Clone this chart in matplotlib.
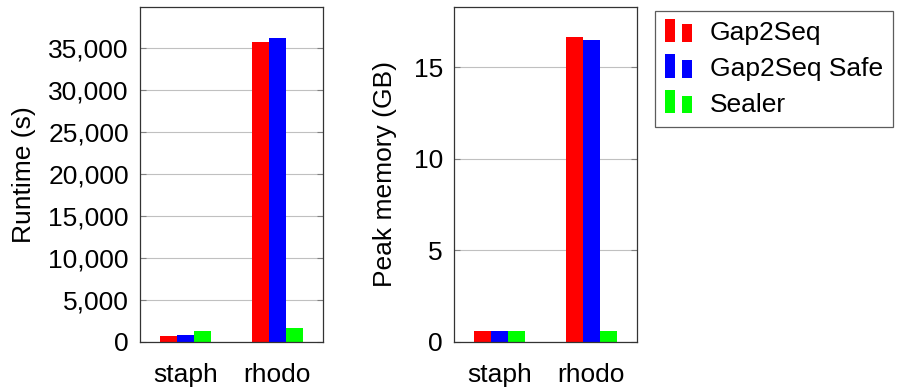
import matplotlib.pyplot as plt
from matplotlib.legend_handler import HandlerBase
from matplotlib.patches import Rectangle
from matplotlib.ticker import FuncFormatter
import numpy as np

plt.rcParams['font.family'] = ['Liberation Sans', 'DejaVu Sans']

datasets = ['staph', 'rhodo']
tools = ['Gap2Seq', 'Gap2Seq Safe', 'Sealer']
colors = ['#ff0000', '#0000ff', '#00ff00']

runtime = {
    'Gap2Seq': [750, 35700],
    'Gap2Seq Safe': [830, 36250],
    'Sealer': [1300, 1670],
}
memory = {
    'Gap2Seq': [0.6, 16.68],
    'Gap2Seq Safe': [0.6, 16.5],
    'Sealer': [0.58, 0.6],
}

FS = 19


class TwoBarHandler(HandlerBase):
    # pgfplots style ybar legend image: two small bars
    def create_artists(self, legend, orig_handle, xdescent, ydescent,
                       width, height, fontsize, trans):
        c = orig_handle.get_facecolor()
        w = width * 0.38
        y0 = -ydescent - 0.1 * height
        r1 = Rectangle((-xdescent, y0), w, height * 1.25,
                       facecolor=c, edgecolor='none', transform=trans)
        r2 = Rectangle((-xdescent + width * 0.62, y0), w, height * 0.95,
                       facecolor=c, edgecolor='none', transform=trans)
        return [r1, r2]


fig = plt.figure(figsize=(9, 3.87), dpi=100)
ax1 = fig.add_axes([0.1556, 0.1163, 0.2033, 0.8656])
ax2 = fig.add_axes([0.5044, 0.1163, 0.2033, 0.8656])

x = np.arange(len(datasets))
bw = 0.185
handles = []
for ax, data in [(ax1, runtime), (ax2, memory)]:
    for i, t in enumerate(tools):
        b = ax.bar(x + (i - 1) * bw, data[t], bw, color=colors[i], label=t, zorder=3)
        if ax is ax1:
            handles.append(b.patches[0])
    ax.set_xlim(-0.5, 1.5)
    ax.set_xticks(x)
    ax.set_xticklabels(datasets)
    ax.tick_params(axis='x', length=0, labelsize=FS, pad=15)
    ax.tick_params(axis='y', direction='in', length=4, color='#808080',
                   labelsize=FS, right=True, pad=8)
    ax.yaxis.grid(True, color='#c0c0c0', linewidth=0.8, zorder=0)
    for s in ax.spines.values():
        s.set_color('#333333')
        s.set_linewidth(0.9)
        s.set_zorder(4)

ax1.set_ylim(0, 39900)
ax1.set_yticks(range(0, 35001, 5000))
ax1.yaxis.set_major_formatter(FuncFormatter(lambda v, p: f'{int(v):,}'))
ax1.set_ylabel('Runtime (s)', fontsize=FS, labelpad=9)

ax2.set_ylim(0, 18.3)
ax2.set_yticks([0, 5, 10, 15])
ax2.set_ylabel('Peak memory (GB)', fontsize=FS, labelpad=12)

leg = fig.legend(handles, tools, loc='upper left', bbox_to_anchor=(0.728, 0.972),
                 fontsize=FS, frameon=True, fancybox=False, edgecolor='#333333',
                 handler_map={Rectangle: TwoBarHandler()}, handlelength=1.0,
                 handletextpad=0.7, borderpad=0.38, borderaxespad=0,
                 labelspacing=0.45)
leg.get_frame().set_linewidth(0.9)

fig.savefig('out.png', dpi=100)
